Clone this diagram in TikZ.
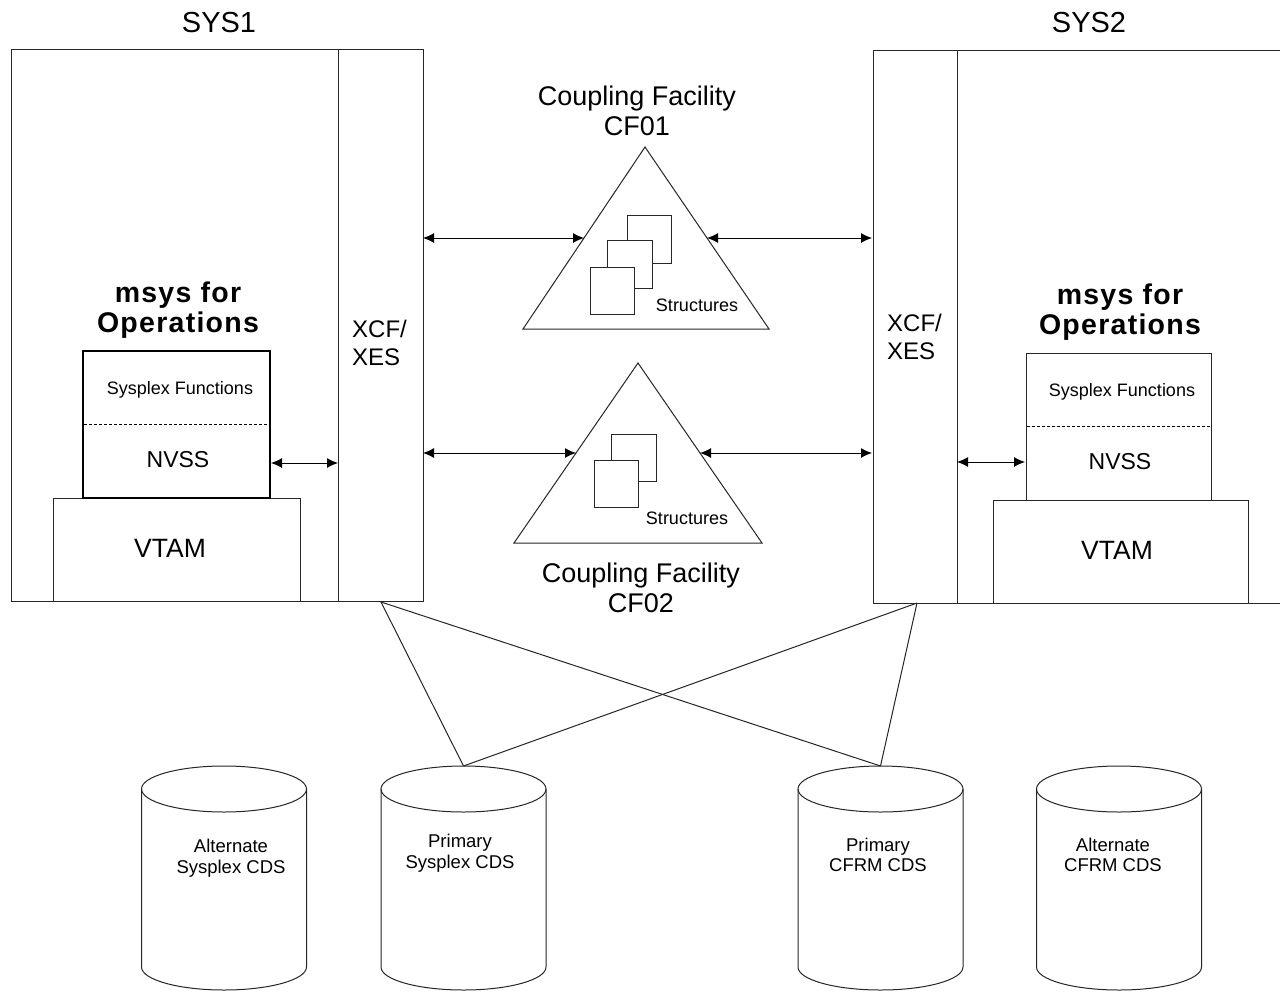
\documentclass[tikz,border=0pt]{standalone}
\usepackage{fontspec}
\setmainfont{Liberation Sans}
\newfontfamily\msysfont[LetterSpace=4.5]{Liberation Sans}
\usetikzlibrary{arrows.meta,calc}
\tikzset{
  ln/.style={draw=black!85, line width=1pt},
  thickbox/.style={draw=black, line width=2pt},
  dashsep/.style={draw=black, line width=0.8pt, dash pattern=on 3pt off 2pt},
  dblarrow/.style={draw=black, line width=1pt, {Latex[length=11pt,width=10pt]}-{Latex[length=11pt,width=10pt]}},
  sqr/.style={draw=black!85, line width=1pt, fill=white},
  lbl/.style={inner sep=0pt, align=center},
  fbig/.style={font=\fontsize{29}{31}\selectfont},
  fcf/.style={font=\fontsize{27}{30}\selectfont},
  fmsys/.style={font=\msysfont\bfseries\fontsize{28.5}{30}\selectfont},
  fxcf/.style={font=\fontsize{24}{28}\selectfont},
  fsf/.style={font=\fontsize{18}{20}\selectfont},
  fnvss/.style={font=\fontsize{23}{25}\selectfont},
  fvtam/.style={font=\fontsize{26.5}{28}\selectfont},
  fstr/.style={font=\fontsize{18}{20}\selectfont},
  fcds/.style={font=\fontsize{18.5}{20.5}\selectfont},
}
\newcommand\cdsdrum[2]{%
  \draw[ln] ({#1-82.5},789) -- ({#1-82.5},967)
     arc[start angle=180, end angle=0, x radius=82.5, y radius=23]
     -- ({#1+82.5},789);
  \draw[ln] (#1,789) ellipse [x radius=82.5, y radius=23];
  \coordinate (#2) at (#1,766);
}
\begin{document}
\begin{tikzpicture}[x=1pt,y=-1pt]
\useasboundingbox (0,0) rectangle (1280,991);
\fill[white] (0,0) rectangle (1280,991);

% ---------- SYS1 ----------
\node[lbl,fbig] (sys1lbl) at (219,23) {SYS1};
\draw[ln] (11,49) rectangle (423,601);
\draw[ln] (338,49) -- (338,601);
\node[lbl,fxcf,align=left,anchor=west] (xcf1) at (352,343) {XCF/\\XES};
\node[lbl,fmsys] (msys1) at (178,310) {msys for\\Operations};
\draw[ln] (53,601) -- (53,498) -- (300,498) -- (300,601);
\node[lbl,fvtam] (vtam1) at (170,548) {VTAM};
\draw[thickbox] (83,351) rectangle (270,498);
\draw[dashsep] (84,424) -- (269,424);
\node[lbl,fsf] (sf1) at (180,390) {Sysplex Functions};
\node[lbl,fnvss] (nvss1) at (178,460) {NVSS};
\coordinate (n1a) at (271,463);
\coordinate (n1b) at (338,463);
\draw[dblarrow] (n1a) -- (n1b);

% ---------- SYS2 ----------
\node[lbl,fbig] (sys2lbl) at (1089,23) {SYS2};
\draw[ln] (1282,50) -- (873,50) -- (873,603) -- (1282,603);
\draw[ln] (957,50) -- (957,603);
\node[lbl,fxcf,align=left,anchor=west] (xcf2) at (887,337) {XCF/\\XES};
\node[lbl,fmsys] (msys2) at (1120,312) {msys for\\Operations};
\draw[ln] (993,603) -- (993,500) -- (1248,500) -- (1248,603);
\node[lbl,fvtam] (vtam2) at (1117,550) {VTAM};
\draw[ln] (1026,353) rectangle (1211,500);
\draw[dashsep] (1027,426) -- (1210,426);
\node[lbl,fsf] (sf2) at (1122,392) {Sysplex Functions};
\node[lbl,fnvss] (nvss2) at (1120,462) {NVSS};
\coordinate (n2a) at (957,462);
\coordinate (n2b) at (1025,462);
\draw[dblarrow] (n2a) -- (n2b);

% ---------- CF01 ----------
\node[lbl,fcf] (cf1lbl) at (637,111) {Coupling Facility\\CF01};
\coordinate (t1a) at (645,147);
\coordinate (t1l) at (523,329);
\coordinate (t1r) at (769,329);
\draw[ln] (t1a) -- (t1l) -- (t1r) -- cycle;
\draw[sqr] (627,215) rectangle (671,263);
\draw[sqr] (607,240) rectangle (652,288);
\draw[sqr] (590,267) rectangle (634,314);
\node[lbl,fstr] (str1) at (697,305) {Structures};
\coordinate (s1c1) at (423,238);
\coordinate (s2c1) at (872,238);
\draw[dblarrow] (s1c1) -- ($(t1l)!0.5!(t1a)$);
\draw[dblarrow] ($(t1r)!0.5!(t1a)$) -- (s2c1);

% ---------- CF02 ----------
\node[lbl,fcf] (cf2lbl) at (641,588) {Coupling Facility\\CF02};
\coordinate (t2a) at (638,363);
\coordinate (t2l) at (514,543);
\coordinate (t2r) at (762,543);
\draw[ln] (t2a) -- (t2l) -- (t2r) -- cycle;
\draw[sqr] (611,434) rectangle (656,481);
\draw[sqr] (594,460) rectangle (638,507);
\node[lbl,fstr] (str2) at (687,518) {Structures};
\coordinate (s1c2) at (423,453);
\coordinate (s2c2) at (872,453);
\draw[dblarrow] (s1c2) -- ($(t2l)!0.5!(t2a)$);
\draw[dblarrow] ($(t2r)!0.5!(t2a)$) -- (s2c2);

% ---------- CDS drums ----------
\cdsdrum{224}{altsys}
\cdsdrum{463.5}{prisys}
\cdsdrum{880.5}{pricfrm}
\cdsdrum{1119}{altcfrm}
\node[lbl,fcds] (altsysl) at (231,858) {Alternate\\Sysplex CDS};
\node[lbl,fcds] (prisysl) at (460,853) {Primary\\Sysplex CDS};
\node[lbl,fcds] (pricfrml) at (878,855) {Primary\\CFRM CDS};
\node[lbl,fcds] (altcfrml) at (1113,855) {Alternate\\CFRM CDS};

% ---------- links to CDS ----------
\coordinate (s1b) at (381,602);
\coordinate (s2b) at (917,603);
\draw[ln] (s1b) -- (prisys);
\draw[ln] (s1b) -- (pricfrm);
\draw[ln] (s2b) -- (prisys);
\draw[ln] (s2b) -- (pricfrm);
\end{tikzpicture}
\end{document}
